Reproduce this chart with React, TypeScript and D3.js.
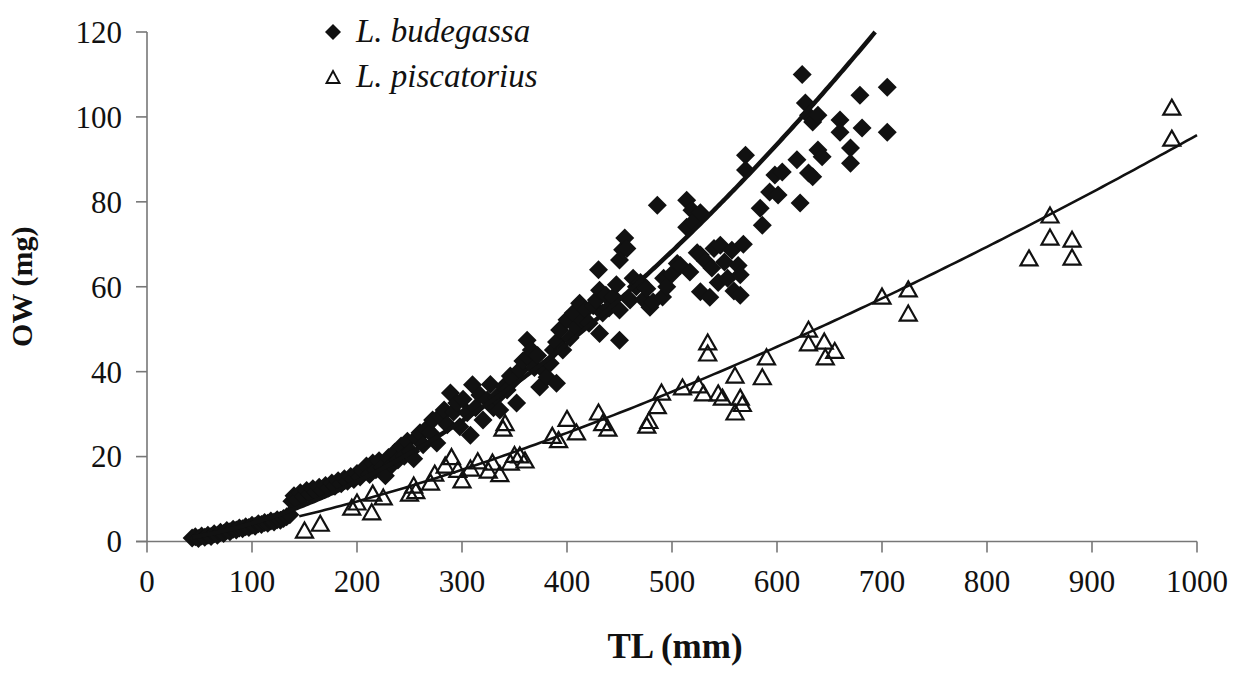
import React from "react";
import * as d3 from "d3";

const xTicks = [0, 100, 200, 300, 400, 500, 600, 700, 800, 900, 1000];
const yTicks = [0, 20, 40, 60, 80, 100, 120];

const seriesNames = ["L. budegassa", "L. piscatorius"];

// [TL (mm), OW (mg)]
const budegassa: [number, number][] = [
  [43, 0.8], [46, 1.1], [49, 0.7], [52, 1.3], [55, 1.0], [58, 1.5], [61, 1.2], [64, 1.8], [67, 1.5], [70, 2.2],
  [73, 1.9], [76, 2.6], [79, 2.3], [82, 2.9], [85, 2.7], [88, 3.2], [91, 3.0], [94, 3.5], [97, 3.3], [100, 3.8],
  [103, 3.6], [106, 4.2], [109, 4.0], [112, 4.5], [115, 4.3], [118, 4.8], [121, 4.6], [124, 5.1], [127, 5.0], [130, 5.4],
  [133, 5.8], [136, 6.3],
  [138, 9.5], [140, 10.8], [143, 9.8], [146, 11.5], [149, 10.6], [152, 12.0], [155, 11.2], [158, 12.4], [161, 11.6], [164, 12.8],
  [167, 12.1], [170, 13.2], [173, 12.6], [176, 13.8], [179, 13.0], [182, 14.3], [185, 13.6], [188, 14.8], [191, 14.2], [194, 15.3],
  [197, 14.6], [200, 16.0], [203, 15.2], [206, 16.6], [209, 17.8], [212, 15.8], [215, 18.5], [218, 16.9], [221, 19.0], [224, 17.5],
  [227, 15.5], [230, 19.8], [233, 18.0], [236, 21.0], [239, 19.2], [242, 22.5], [245, 20.1], [248, 23.6], [251, 21.2], [254, 19.5],
  [257, 24.5], [260, 25.6], [263, 22.8], [266, 26.5], [270, 25.6], [272, 28.6], [276, 23.2], [279, 29.5],
  [283, 31.0], [286, 27.5], [289, 35.0], [292, 30.5], [295, 32.6], [298, 27.0], [301, 33.5], [305, 30.3], [308, 25.0], [310, 36.9],
  [313, 31.5], [317, 34.5], [320, 28.6], [324, 33.3], [327, 37.0], [330, 31.5], [333, 34.0], [336, 31.0], [340, 36.5], [343, 35.7],
  [346, 39.0], [349, 38.0], [352, 32.6], [355, 40.4], [358, 42.5], [362, 47.4], [363, 43.5], [366, 45.1], [369, 41.0], [372, 43.8],
  [374, 36.4], [377, 40.5], [381, 38.7], [384, 42.0], [387, 45.1], [390, 47.0], [390, 37.3], [393, 49.8], [396, 45.1], [400, 52.2],
  [403, 48.0], [406, 53.8], [409, 50.5], [412, 56.1], [415, 52.0], [418, 54.5], [421, 51.4], [425, 55.5], [428, 56.9], [430, 64.0],
  [431, 59.2], [431, 49.0], [434, 53.8], [437, 58.0], [440, 55.0], [444, 57.6], [447, 60.5], [450, 66.3], [450, 54.5], [450, 47.4],
  [453, 68.7], [455, 71.5], [457, 69.0], [460, 56.9], [463, 62.0], [466, 60.0], [470, 61.0], [473, 57.0], [476, 59.5], [479, 55.2],
  [482, 56.4], [486, 79.2], [491, 57.6], [492, 62.0], [495, 60.0],
  [500, 63.0], [505, 65.5], [508, 65.0], [514, 80.4], [514, 74.0], [517, 63.5], [519, 78.0], [520, 75.2], [524, 68.0], [527, 77.4],
  [527, 67.5], [527, 58.8], [532, 66.0], [536, 57.5], [538, 64.4], [540, 69.0], [544, 61.0], [546, 69.8], [550, 65.8], [553, 62.0],
  [557, 68.6], [559, 59.0], [563, 65.0], [565, 62.8], [565, 58.0], [568, 70.0], [570, 91.0], [570, 87.5],
  [584, 78.5], [586, 74.5], [593, 82.3], [598, 86.3], [601, 81.6], [605, 87.0], [619, 89.9], [622, 79.7], [624, 110.0], [627, 103.3],
  [630, 100.4], [630, 86.8], [634, 98.8], [634, 85.9], [639, 100.4], [639, 92.2], [643, 90.6], [660, 99.3], [660, 96.4], [670, 92.7],
  [670, 89.1], [679, 105.1], [681, 97.4], [705, 107.0], [705, 96.4],
];

const piscatorius: [number, number][] = [
  [150, 2.7], [165, 4.3], [195, 8.1], [200, 9.3], [214, 7.0], [215, 11.4], [225, 10.5], [250, 11.4], [254, 13.3], [256, 12.0],
  [270, 14.0], [274, 16.1], [284, 18.0], [290, 20.0], [296, 17.0], [300, 14.5], [308, 17.3], [315, 19.0], [325, 16.8], [329, 18.7],
  [336, 16.0], [339, 26.7], [341, 28.0], [346, 18.7], [350, 20.5], [355, 20.4], [360, 19.2], [386, 25.0], [392, 24.0], [400, 29.0],
  [409, 25.8], [430, 30.5], [434, 28.0], [439, 26.7], [476, 27.4], [478, 28.5], [486, 32.0], [490, 35.2], [510, 36.4], [525, 36.9],
  [530, 35.0], [534, 47.0], [534, 44.4], [544, 35.0], [548, 34.0], [560, 39.2], [560, 30.5], [565, 34.0], [567, 32.5], [586, 38.8],
  [590, 43.5], [630, 50.0], [630, 46.8], [645, 47.2], [646, 43.5], [655, 45.0], [700, 57.8], [725, 59.5], [725, 53.8], [840, 66.8],
  [860, 76.9], [860, 71.7], [881, 71.2], [881, 67.0], [976, 102.3], [976, 95.0],
];

// power-law fits OW = a * TL^b, with their TL ranges
const budegassaFit = { a: 0.001558, b: 1.72, from: 43 };
const piscatoriusFit = { a: 0.004581, b: 1.44, from: 145, to: 1000 };

const W = 1234;
const H = 678;

export default function App() {
  const x = d3.scaleLinear().domain([0, 1000]).range([147, 1197]);
  const y = d3.scaleLinear().domain([0, 120]).range([541.5, 32]);

  const bEnd = Math.pow(120 / budegassaFit.a, 1 / budegassaFit.b);
  const bTL = d3.range(budegassaFit.from, bEnd, 2).concat([bEnd]);
  const pTL = d3.range(piscatoriusFit.from, piscatoriusFit.to, 5).concat([piscatoriusFit.to]);

  const line = d3
    .line<[number, number]>()
    .x((d) => x(d[0]))
    .y((d) => y(d[1]))
    .curve(d3.curveLinear);

  const bPath = line(bTL.map((t) => [t, budegassaFit.a * Math.pow(t, budegassaFit.b)]));
  const pPath = line(pTL.map((t) => [t, piscatoriusFit.a * Math.pow(t, piscatoriusFit.b)]));

  const diamond = (cx: number, cy: number, r: number) =>
    `M${cx},${cy - r}L${cx + r},${cy}L${cx},${cy + r}L${cx - r},${cy}Z`;
  const triangle = (cx: number, cy: number, w: number, h: number) =>
    `M${cx},${cy - h / 2}L${cx + w / 2},${cy + h / 2}L${cx - w / 2},${cy + h / 2}Z`;

  const axisColor = "#777";
  const font = "'Liberation Serif', 'Times New Roman', serif";

  return (
    <div style={{ position: "absolute", left: 0, top: 0 }}>
      <svg width={W} height={H} style={{ display: "block", background: "#fff" }}>
        {/* axes */}
        <line x1={x(0)} x2={x(0)} y1={y(120)} y2={y(0)} stroke={axisColor} strokeWidth={1.6} />
        <line x1={x(0) - 11} x2={x(1000)} y1={y(0)} y2={y(0)} stroke={axisColor} strokeWidth={1.6} />
        {yTicks.map((t) => (
          <g key={"y" + t}>
            <line x1={x(0) - 11} x2={x(0)} y1={y(t)} y2={y(t)} stroke={axisColor} strokeWidth={1.6} />
            <text x={122} y={y(t)} dy="0.35em" textAnchor="end" fontFamily={font} fontSize={31} fill="#111">
              {t}
            </text>
          </g>
        ))}
        {xTicks.map((t) => (
          <g key={"x" + t}>
            <line x1={x(t)} x2={x(t)} y1={y(0)} y2={y(0) + 11} stroke={axisColor} strokeWidth={1.6} />
            <text x={x(t)} y={592} textAnchor="middle" fontFamily={font} fontSize={31} fill="#111">
              {t}
            </text>
          </g>
        ))}

        {/* axis titles */}
        <text x={675} y={658} textAnchor="middle" fontFamily={font} fontSize={35} fontWeight="bold" fill="#111">
          TL (mm)
        </text>
        <text
          transform={`translate(32, ${(y(0) + y(120)) / 2}) rotate(-90)`}
          textAnchor="middle"
          fontFamily={font}
          fontSize={30}
          fontWeight="bold"
          fill="#111"
        >
          OW (mg)
        </text>

        {/* markers */}
        {budegassa.map((d, i) => (
          <path key={"b" + i} d={diamond(x(d[0]), y(d[1]), 9.5)} fill="#111" />
        ))}
        {piscatorius.map((d, i) => (
          <path
            key={"p" + i}
            d={triangle(x(d[0]), y(d[1]), 17, 15)}
            fill="none"
            stroke="#111"
            strokeWidth={2.2}
            strokeLinejoin="miter"
          />
        ))}

        {/* fitted curves */}
        <path d={bPath ?? ""} fill="none" stroke="#111" strokeWidth={4.5} />
        <path d={pPath ?? ""} fill="none" stroke="#111" strokeWidth={2.6} />

        {/* legend */}
        <path d={diamond(333, 32, 8)} fill="#111" />
        <text x={356} y={42} fontFamily={font} fontStyle="italic" fontSize={33} fill="#111">
          {seriesNames[0]}
        </text>
        <path d={triangle(333, 77, 13, 12)} fill="none" stroke="#111" strokeWidth={1.9} />
        <text x={356} y={87} fontFamily={font} fontStyle="italic" fontSize={33} fill="#111">
          {seriesNames[1]}
        </text>
      </svg>
    </div>
  );
}
